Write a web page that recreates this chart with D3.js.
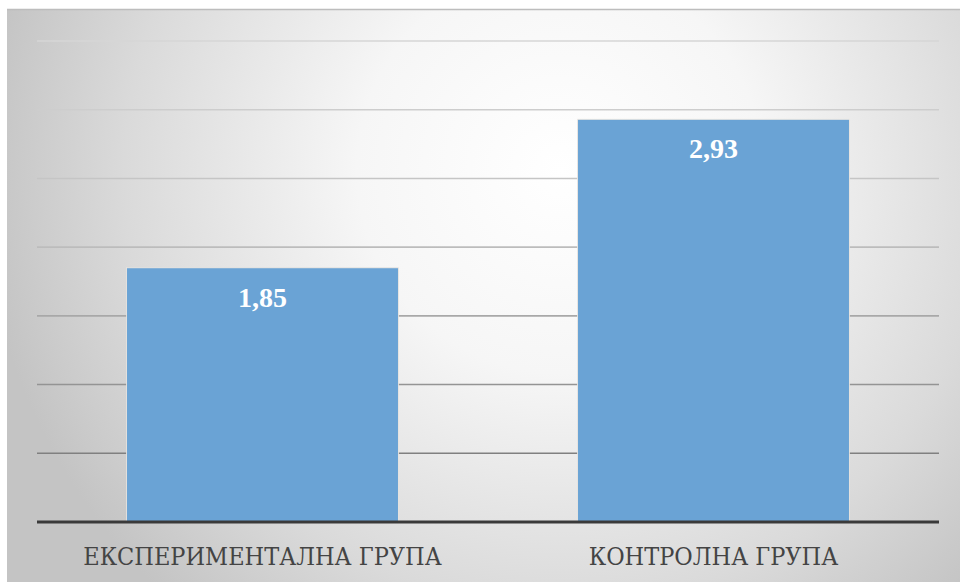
<!DOCTYPE html>
<html>
<head>
<meta charset="utf-8">
<script src="https://cdn.jsdelivr.net/npm/d3@7"></script>
<style>
  html, body { margin: 0; padding: 0; background: #ffffff; }
  svg { display: block; }
  .serif { font-family: "Liberation Serif", "DejaVu Serif", "Times New Roman", serif; }
  .cyr { font-family: "DejaVu Serif Condensed", "DejaVu Serif", serif; font-stretch: condensed; }
</style>
</head>
<body>
<svg id="chart" width="960" height="582"></svg>
<script>
// Group names and their mean scores
const categories = ["ЕКСПЕРИМЕНТАЛНА ГРУПА", "КОНТРОЛНА ГРУПА"];
const values = [1.85, 2.93];
const valueLabels = ["1,85", "2,93"];
const gridTicks = [0, 0.5, 1, 1.5, 2, 2.5, 3, 3.5];

const svg = d3.select("#chart");
const W = 960, H = 582;

const margin = { left: 37, right: 21, top: 41, bottom: 60 };
const plotLeft = margin.left, plotRight = W - margin.right;
const plotTop = margin.top, plotBottom = H - margin.bottom;

// Background panel with soft radial shading
const defs = svg.append("defs");
const rg = defs.append("radialGradient")
  .attr("id", "bg")
  .attr("gradientUnits", "userSpaceOnUse")
  .attr("cx", 560).attr("cy", 170).attr("r", 580)
  .attr("fx", 560).attr("fy", 170);
rg.append("stop").attr("offset", "0%").attr("stop-color", "#ffffff");
rg.append("stop").attr("offset", "35%").attr("stop-color", "#f6f6f6");
rg.append("stop").attr("offset", "75%").attr("stop-color", "#dadada");
rg.append("stop").attr("offset", "100%").attr("stop-color", "#c4c4c4");

svg.append("rect")
  .attr("x", 7).attr("y", 9)
  .attr("width", W - 7).attr("height", H - 9)
  .attr("fill", "url(#bg)");
svg.append("line")
  .attr("x1", 7).attr("x2", W).attr("y1", 9.5).attr("y2", 9.5)
  .attr("stroke", "#bdbdbd").attr("stroke-width", 1.5);

const x = d3.scaleBand()
  .domain(categories)
  .range([plotLeft, plotRight])
  .paddingInner(0.397)
  .paddingOuter(0.1985);

const y = d3.scaleLinear()
  .domain([0, 3.5])
  .range([plotBottom, plotTop]);

// Gridlines, lighter toward the top of the panel
const gridColor = d3.scaleLinear()
  .domain([3.5, 2, 0.5])
  .range(["#d6d6d6", "#bcbcbc", "#808080"]);

svg.append("g")
  .selectAll("line")
  .data(gridTicks.filter(t => t > 0))
  .join("line")
  .attr("x1", plotLeft).attr("x2", plotRight)
  .attr("y1", d => y(d)).attr("y2", d => y(d))
  .attr("stroke", d => gridColor(d))
  .attr("stroke-width", 1.6);

// Bars
svg.append("g")
  .selectAll("rect")
  .data(values)
  .join("rect")
  .attr("x", (d, i) => x(categories[i]))
  .attr("y", d => y(d))
  .attr("width", x.bandwidth())
  .attr("height", d => y(0) - y(d))
  .attr("fill", "#6aa3d5")
  .attr("stroke", "rgba(245,235,225,0.8)")
  .attr("stroke-width", 1);

// Value labels inside the bars
svg.append("g")
  .selectAll("text")
  .data(values)
  .join("text")
  .attr("class", "serif")
  .attr("x", (d, i) => x(categories[i]) + x.bandwidth() / 2)
  .attr("y", d => y(d) + 39)
  .attr("text-anchor", "middle")
  .style("font-weight", "bold")
  .style("font-size", "28px")
  .attr("fill", "#ffffff")
  .text((d, i) => valueLabels[i]);

// Category axis
const xAxis = d3.axisBottom(x).tickSize(0).tickPadding(0);
const gx = svg.append("g")
  .attr("transform", `translate(0,${plotBottom})`)
  .call(xAxis);
gx.attr("font-family", null).attr("font-size", null);
gx.select(".domain")
  .attr("d", `M${plotLeft},0H${plotRight}`)
  .attr("stroke", "#3a3a3a")
  .attr("stroke-width", 3);
gx.selectAll(".tick text")
  .attr("class", "cyr")
  .attr("y", 43)
  .attr("dy", 0)
  .style("font-size", "25px")
  .attr("fill", "#444444");
</script>
</body>
</html>
